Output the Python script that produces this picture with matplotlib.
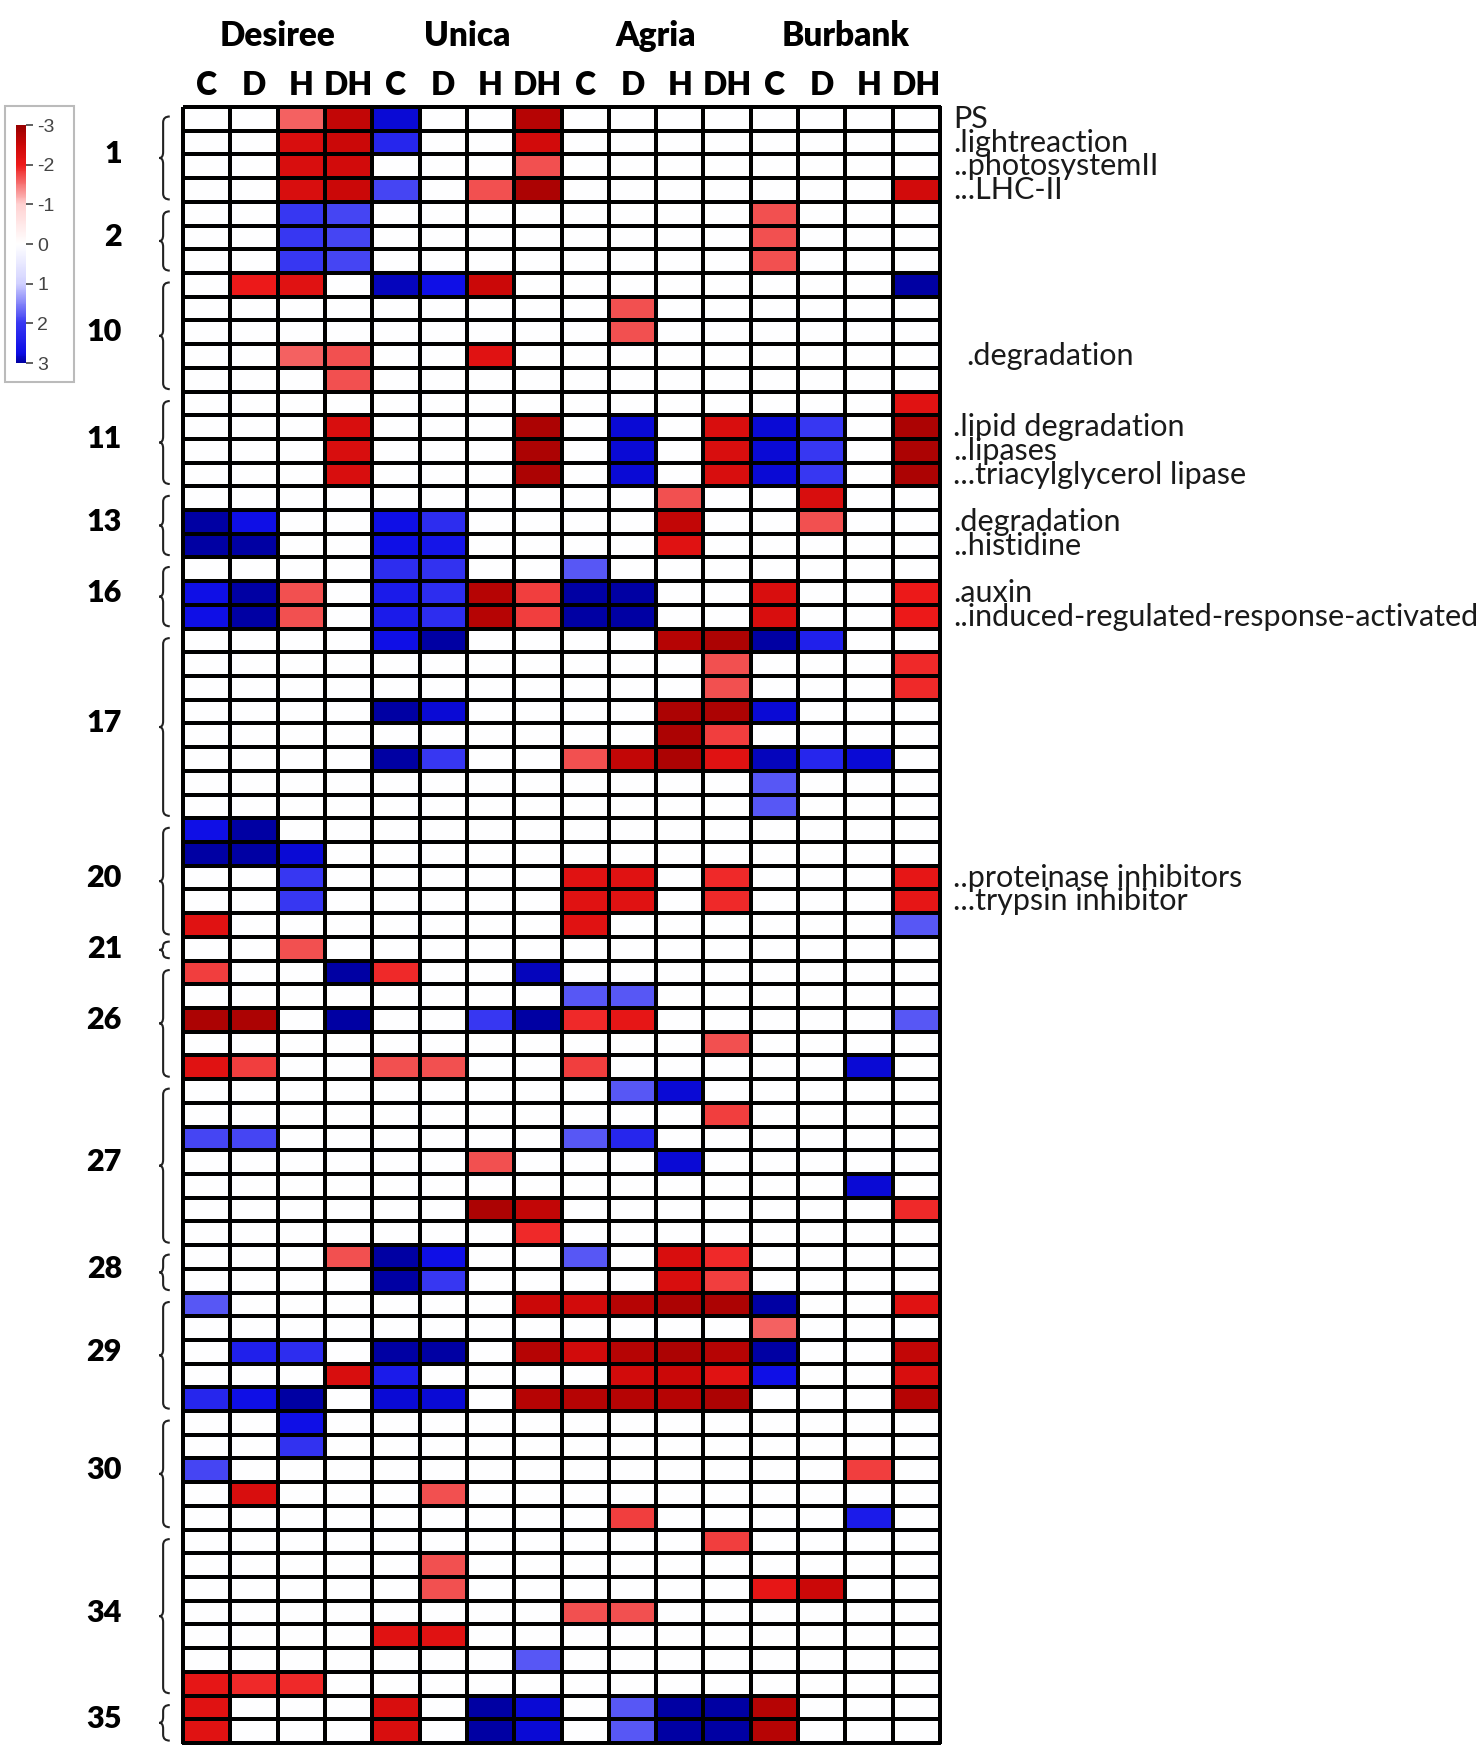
import matplotlib
matplotlib.use("Agg")
import matplotlib.pyplot as plt
import numpy as np
from matplotlib.colors import LinearSegmentedColormap, Normalize
from matplotlib.patches import Rectangle, PathPatch
from matplotlib.path import Path

plt.rcParams['font.family'] = ['Lato', 'DejaVu Sans']
plt.rcParams['axes.unicode_minus'] = False

cultivars = ['Desiree', 'Unica', 'Agria', 'Burbank']
treatments = ['C', 'D', 'H', 'DH']

# bins on the left, and how many rows each one has
group_labels = ['1', '2', '10', '11', '13', '16', '17', '20', '21', '26', '27', '28', '29', '30', '34', '35']
group_sizes = [4, 3, 5, 4, 3, 3, 8, 5, 1, 5, 7, 2, 5, 5, 7, 2]

# sub-bin names on the right (row index, text)
side_rows = [0, 1, 2, 3, 10, 13, 14, 15, 17, 18, 20, 21, 32, 33]
side_texts = ['PS', '.lightreaction', '..photosystemII', '...LHC-II', '.degradation',
              '.lipid degradation', '..lipases', '...triacylglycerol lipase',
              '.degradation', '..histidine', '.auxin', '..induced-regulated-response-activated',
              '..proteinase inhibitors', '...trypsin inhibitor']

# columns: Desiree C D H DH | Unica C D H DH | Agria C D H DH | Burbank C D H DH
values = np.array([
    # 1
    [0, 0, -1.6, -2.6, 2.8, 0, 0, -2.7, 0, 0, 0, 0, 0, 0, 0, 0],
    [0, 0, -2.3, -2.5, 2.3, 0, 0, -2.4, 0, 0, 0, 0, 0, 0, 0, 0],
    [0, 0, -2.3, -2.4, 0, 0, 0, -1.7, 0, 0, 0, 0, 0, 0, 0, 0],
    [0, 0, -2.3, -2.5, 1.9, 0, -1.7, -2.8, 0, 0, 0, 0, 0, 0, 0, -2.4],
    # 2
    [0, 0, 2.0, 1.9, 0, 0, 0, 0, 0, 0, 0, 0, -1.7, 0, 0, 0],
    [0, 0, 2.0, 1.9, 0, 0, 0, 0, 0, 0, 0, 0, -1.7, 0, 0, 0],
    [0, 0, 2.0, 1.9, 0, 0, 0, 0, 0, 0, 0, 0, -1.7, 0, 0, 0],
    # 10
    [0, -2.0, -2.2, 0, 2.9, 2.7, -2.5, 0, 0, 0, 0, 0, 0, 0, 0, 3.0],
    [0, 0, 0, 0, 0, 0, 0, 0, 0, -1.7, 0, 0, 0, 0, 0, 0],
    [0, 0, 0, 0, 0, 0, 0, 0, 0, -1.7, 0, 0, 0, 0, 0, 0],
    [0, 0, -1.6, -1.7, 0, 0, -2.2, 0, 0, 0, 0, 0, 0, 0, 0, 0],
    [0, 0, 0, -1.7, 0, 0, 0, 0, 0, 0, 0, 0, 0, 0, 0, 0],
    # 11
    [0, 0, 0, 0, 0, 0, 0, 0, 0, 0, 0, 0, 0, 0, 0, -2.2],
    [0, 0, 0, -2.3, 0, 0, 0, -2.8, 0, 2.8, 0, -2.3, 2.8, 2.0, 0, -2.8],
    [0, 0, 0, -2.3, 0, 0, 0, -2.8, 0, 2.8, 0, -2.3, 2.8, 2.0, 0, -2.8],
    [0, 0, 0, -2.3, 0, 0, 0, -2.8, 0, 2.8, 0, -2.3, 2.8, 2.0, 0, -2.8],
    # 13
    [0, 0, 0, 0, 0, 0, 0, 0, 0, 0, -1.7, 0, 0, -2.3, 0, 0],
    [3.0, 2.7, 0, 0, 2.7, 2.2, 0, 0, 0, 0, -2.6, 0, 0, -1.7, 0, 0],
    [3.0, 3.0, 0, 0, 2.7, 2.6, 0, 0, 0, 0, -2.2, 0, 0, 0, 0, 0],
    # 16
    [0, 0, 0, 0, 2.2, 2.1, 0, 0, 1.8, 0, 0, 0, 0, 0, 0, 0],
    [2.7, 3.0, -1.7, 0, 2.5, 2.2, -2.7, -1.8, 3.0, 3.0, 0, 0, -2.3, 0, 0, -2.0],
    [2.7, 3.0, -1.7, 0, 2.5, 2.2, -2.7, -1.8, 3.0, 3.0, 0, 0, -2.3, 0, 0, -2.0],
    # 17
    [0, 0, 0, 0, 2.7, 3.0, 0, 0, 0, 0, -2.7, -2.8, 3.0, 2.4, 0, 0],
    [0, 0, 0, 0, 0, 0, 0, 0, 0, 0, 0, -1.7, 0, 0, 0, -1.9],
    [0, 0, 0, 0, 0, 0, 0, 0, 0, 0, 0, -1.7, 0, 0, 0, -1.9],
    [0, 0, 0, 0, 3.0, 2.8, 0, 0, 0, 0, -2.8, -2.8, 2.8, 0, 0, 0],
    [0, 0, 0, 0, 0, 0, 0, 0, 0, 0, -2.8, -1.8, 0, 0, 0, 0],
    [0, 0, 0, 0, 3.0, 2.0, 0, 0, -1.7, -2.6, -2.8, -2.2, 2.9, 2.3, 2.8, 0],
    [0, 0, 0, 0, 0, 0, 0, 0, 0, 0, 0, 0, 1.8, 0, 0, 0],
    [0, 0, 0, 0, 0, 0, 0, 0, 0, 0, 0, 0, 1.8, 0, 0, 0],
    # 20
    [2.7, 3.0, 0, 0, 0, 0, 0, 0, 0, 0, 0, 0, 0, 0, 0, 0],
    [3.0, 3.0, 2.8, 0, 0, 0, 0, 0, 0, 0, 0, 0, 0, 0, 0, 0],
    [0, 0, 2.0, 0, 0, 0, 0, 0, -2.2, -2.2, 0, -1.9, 0, 0, 0, -2.1],
    [0, 0, 2.0, 0, 0, 0, 0, 0, -2.2, -2.2, 0, -1.9, 0, 0, 0, -2.1],
    [-2.2, 0, 0, 0, 0, 0, 0, 0, -2.2, 0, 0, 0, 0, 0, 0, 1.8],
    # 21
    [0, 0, -1.7, 0, 0, 0, 0, 0, 0, 0, 0, 0, 0, 0, 0, 0],
    # 26
    [-1.8, 0, 0, 3.0, -1.9, 0, 0, 2.9, 0, 0, 0, 0, 0, 0, 0, 0],
    [0, 0, 0, 0, 0, 0, 0, 0, 1.8, 1.8, 0, 0, 0, 0, 0, 0],
    [-2.8, -2.8, 0, 3.0, 0, 0, 2.0, 3.0, -1.9, -2.1, 0, 0, 0, 0, 0, 1.8],
    [0, 0, 0, 0, 0, 0, 0, 0, 0, 0, 0, -1.7, 0, 0, 0, 0],
    [-2.2, -1.8, 0, 0, -1.7, -1.7, 0, 0, -1.8, 0, 0, 0, 0, 0, 2.8, 0],
    # 27
    [0, 0, 0, 0, 0, 0, 0, 0, 0, 1.8, 2.8, 0, 0, 0, 0, 0],
    [0, 0, 0, 0, 0, 0, 0, 0, 0, 0, 0, -1.8, 0, 0, 0, 0],
    [1.9, 1.9, 0, 0, 0, 0, 0, 0, 1.8, 2.3, 0, 0, 0, 0, 0, 0],
    [0, 0, 0, 0, 0, 0, -1.7, 0, 0, 0, 2.8, 0, 0, 0, 0, 0],
    [0, 0, 0, 0, 0, 0, 0, 0, 0, 0, 0, 0, 0, 0, 2.8, 0],
    [0, 0, 0, 0, 0, 0, -2.8, -2.6, 0, 0, 0, 0, 0, 0, 0, -1.9],
    [0, 0, 0, 0, 0, 0, 0, -1.9, 0, 0, 0, 0, 0, 0, 0, 0],
    # 28
    [0, 0, 0, -1.7, 3.0, 2.7, 0, 0, 1.8, 0, -2.3, -1.9, 0, 0, 0, 0],
    [0, 0, 0, 0, 3.0, 2.0, 0, 0, 0, 0, -2.3, -1.8, 0, 0, 0, 0],
    # 29
    [1.8, 0, 0, 0, 0, 0, 0, -2.5, -2.4, -2.7, -2.8, -2.8, 3.0, 0, 0, -2.2],
    [0, 0, 0, 0, 0, 0, 0, 0, 0, 0, 0, 0, -1.6, 0, 0, 0],
    [0, 2.4, 2.2, 0, 3.0, 3.0, 0, -2.7, -2.4, -2.7, -2.8, -2.7, 3.0, 0, 0, -2.6],
    [0, 0, 0, -2.3, 2.5, 0, 0, 0, 0, -2.4, -2.5, -2.2, 2.7, 0, 0, -2.3],
    [2.3, 2.7, 3.0, 0, 2.8, 2.8, 0, -2.7, -2.7, -2.7, -2.7, -2.8, 0, 0, 0, -2.7],
    # 30
    [0, 0, 2.7, 0, 0, 0, 0, 0, 0, 0, 0, 0, 0, 0, 0, 0],
    [0, 0, 2.1, 0, 0, 0, 0, 0, 0, 0, 0, 0, 0, 0, 0, 0],
    [1.9, 0, 0, 0, 0, 0, 0, 0, 0, 0, 0, 0, 0, 0, -1.8, 0],
    [0, -2.3, 0, 0, 0, -1.7, 0, 0, 0, 0, 0, 0, 0, 0, 0, 0],
    [0, 0, 0, 0, 0, 0, 0, 0, 0, -1.8, 0, 0, 0, 0, 2.5, 0],
    # 34
    [0, 0, 0, 0, 0, 0, 0, 0, 0, 0, 0, -1.8, 0, 0, 0, 0],
    [0, 0, 0, 0, 0, -1.7, 0, 0, 0, 0, 0, 0, 0, 0, 0, 0],
    [0, 0, 0, 0, 0, -1.7, 0, 0, 0, 0, 0, 0, -2.1, -2.5, 0, 0],
    [0, 0, 0, 0, 0, 0, 0, 0, -1.7, -1.7, 0, 0, 0, 0, 0, 0],
    [0, 0, 0, 0, -2.2, -2.2, 0, 0, 0, 0, 0, 0, 0, 0, 0, 0],
    [0, 0, 0, 0, 0, 0, 0, 1.8, 0, 0, 0, 0, 0, 0, 0, 0],
    [-2.1, -1.9, -1.9, 0, 0, 0, 0, 0, 0, 0, 0, 0, 0, 0, 0, 0],
    # 35
    [-2.2, 0, 0, 0, -2.3, 0, 3.0, 2.8, 0, 1.8, 3.0, 3.0, -2.7, 0, 0, 0],
    [-2.2, 0, 0, 0, -2.3, 0, 3.0, 2.8, 0, 1.8, 3.0, 3.0, -2.7, 0, 0, 0],
])

# red for negative, blue for positive
cmap = LinearSegmentedColormap.from_list('rwb', [
    (0.0, (0.60, 0.0, 0.0)),
    (0.5 / 6, (0.80, 0.03, 0.03)),
    (1 / 6, (0.93, 0.10, 0.10)),
    (2 / 6, (1.0, 0.82, 0.82)),
    (0.5, (1.0, 1.0, 1.0)),
    (4 / 6, (0.82, 0.82, 1.0)),
    (5 / 6, (0.22, 0.22, 0.95)),
    (5.75 / 6, (0.05, 0.05, 0.90)),
    (1.0, (0.0, 0.0, 0.64)),
])
norm = Normalize(-3, 3)

W, H = 1476, 1760
fig = plt.figure(figsize=(W / 100, H / 100), dpi=100)
ax = fig.add_axes([183 / W, 1 - 1743 / H, 757 / W, 1636 / H])
nrow, ncol = values.shape
mesh = ax.pcolormesh(np.arange(ncol + 1), np.arange(nrow + 1), values,
                     cmap=cmap, norm=norm, edgecolors='black', linewidth=1.5)
mesh.set_clip_on(False)
ax.set_xlim(0, ncol)
ax.set_ylim(nrow, 0)
ax.axis('off')

# column headers
for i, cv in enumerate(cultivars):
    ax.text(i * 4 + 2, -3.0, cv, ha='center', va='center', fontsize=24,
            fontweight='heavy', clip_on=False)
for j in range(ncol):
    ax.text(j + 0.5, -0.9, treatments[j % 4], ha='center', va='center',
            fontsize=23, fontweight='heavy', clip_on=False)


def brace(top, bot, xl=-0.42, xh=-0.28, xt=-0.5):
    mid = (top + bot) / 2
    r = min(0.25, (bot - top) / 4)
    verts = [(xh, top), (xl, top), (xl, top + r),
             (xl, mid - r), (xl, mid), (xt, mid),
             (xl, mid), (xl, mid + r),
             (xl, bot - r), (xl, bot), (xh, bot)]
    codes = [Path.MOVETO, Path.CURVE3, Path.CURVE3,
             Path.LINETO, Path.CURVE3, Path.CURVE3,
             Path.CURVE3, Path.CURVE3,
             Path.LINETO, Path.CURVE3, Path.CURVE3]
    ax.add_patch(PathPatch(Path(verts, codes), fill=False, lw=1.5,
                           edgecolor='#222222', clip_on=False))


start = 0
for lab, n in zip(group_labels, group_sizes):
    end = start + n
    ax.text(-1.29, (start + end) / 2, lab, ha='right', va='center',
            fontsize=22, fontweight='heavy', clip_on=False)
    ti = 0.2 if n == 1 else 0.4
    brace(start + ti, end - 0.1)
    start = end

for r, t in zip(side_rows, side_texts):
    x = 16.28
    if r == 10:
        x = 16.56
    ax.text(x, r + 0.5, t, ha='left', va='center', fontsize=22,
            color='#1a1a1a', clip_on=False)

# colour key
cax = fig.add_axes([16 / W, 1 - 363 / H, 10 / W, 238 / H])
cb = fig.colorbar(mesh, cax=cax, ticks=range(-3, 4))
cb.outline.set_visible(False)
cax.invert_yaxis()
cax.tick_params(length=5, width=1.2, colors='#444444', labelsize=14, pad=3)
for tl in cax.get_yticklabels():
    tl.set_family(['Liberation Sans', 'DejaVu Sans'])
fig.add_artist(Rectangle((5 / W, 1 - 382 / H), 69 / W, 276 / H,
                         transform=fig.transFigure, fill=False,
                         edgecolor='#bbbbbb', linewidth=1.5))

fig.savefig('out.png', dpi=100)
